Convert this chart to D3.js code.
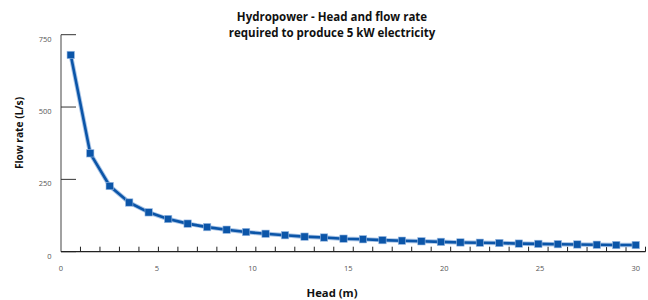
<!DOCTYPE html>
<html>
<head>
<meta charset="utf-8">
<script src="https://cdn.jsdelivr.net/npm/d3@7"></script>
<style>
  body { margin: 0; background: #fff; }
  text { font-family: "Open Sans", "Noto Sans", sans-serif; }
</style>
</head>
<body>
<div id="chart"></div>
<script>
// data
var heads = d3.range(1, 31);
var flows = [680, 340, 227, 170, 136, 113, 97, 85, 76, 68,
             62, 57, 52, 49, 45, 43, 40, 38, 36, 34,
             32, 31, 30, 28, 27, 26, 25, 24, 23, 23];
var yTicks = [0, 250, 500, 750];
var xLabels = [0, 5, 10, 15, 20, 25, 30];
var titleLines = ["Hydropower - Head and flow rate", "required to produce 5 kW electricity"];

var W = 648, H = 300;
var plot = {left: 61, right: 645.5, top: 34.7, bottom: 251.7};

var svg = d3.select("#chart").append("svg")
    .attr("width", W)
    .attr("height", H);

var data = heads.map(function (h, i) { return {head: h, flow: flows[i]}; });

// categories (Excel-style line chart), points at the centre of each band
var xBand = d3.scaleBand().domain(heads).range([plot.left, plot.right]);
var xCenter = function (h) { return xBand(h) + xBand.bandwidth() / 2; };
// labels run from the axis start to the centre of the last category
var xLab = d3.scaleLinear().domain([0, 30]).range([plot.left, xCenter(30)]);
var y = d3.scaleLinear().domain([0, 750]).range([plot.bottom, plot.top]);

// y axis line + ticks pointing into the plot
svg.append("line")
    .attr("x1", plot.left).attr("x2", plot.left)
    .attr("y1", y(750)).attr("y2", y(0))
    .attr("stroke", "#8a8a8a").attr("stroke-width", 1.6);

svg.selectAll(".ytick").data(yTicks).enter().append("line")
    .attr("class", "ytick")
    .attr("x1", plot.left).attr("x2", plot.left + 15)
    .attr("y1", function (d) { return y(d); })
    .attr("y2", function (d) { return y(d); })
    .attr("stroke", "#333").attr("stroke-width", 1);

svg.selectAll(".ylab").data(yTicks).enter().append("text")
    .attr("class", "ylab")
    .attr("x", 51.5)
    .attr("y", function (d) { return y(d) + 7; })
    .attr("text-anchor", "end")
    .attr("font-size", 7.5)
    .attr("fill", "#555")
    .text(function (d) { return d; });

// x axis line + category ticks
svg.append("line")
    .attr("x1", plot.left).attr("x2", plot.right)
    .attr("y1", plot.bottom).attr("y2", plot.bottom)
    .attr("stroke", "#222").attr("stroke-width", 1.2);

svg.selectAll(".xtick").data(heads).enter().append("line")
    .attr("class", "xtick")
    .attr("x1", function (d) { return xBand(d) + xBand.bandwidth(); })
    .attr("x2", function (d) { return xBand(d) + xBand.bandwidth(); })
    .attr("y1", plot.bottom).attr("y2", plot.bottom - 5)
    .attr("stroke", "#222").attr("stroke-width", 1);

svg.selectAll(".xlab").data(xLabels).enter().append("text")
    .attr("class", "xlab")
    .attr("x", function (d) { return xLab(d); })
    .attr("y", 271)
    .attr("text-anchor", "middle")
    .attr("font-size", 7.5)
    .attr("fill", "#555")
    .text(function (d) { return d; });

// series
var line = d3.line()
    .x(function (d) { return xCenter(d.head); })
    .y(function (d) { return y(d.flow); });

svg.append("path")
    .datum(data)
    .attr("d", line)
    .attr("fill", "none")
    .attr("stroke", "#a9c4e6")
    .attr("stroke-width", 4.5)
    .attr("stroke-linejoin", "round");

svg.append("path")
    .datum(data)
    .attr("d", line)
    .attr("fill", "none")
    .attr("stroke", "#0b55a8")
    .attr("stroke-width", 2.6)
    .attr("stroke-linejoin", "round");

svg.selectAll(".pt").data(data).enter().append("rect")
    .attr("class", "pt")
    .attr("x", function (d) { return xCenter(d.head) - 3.7; })
    .attr("y", function (d) { return y(d.flow) - 3.7; })
    .attr("width", 7.4).attr("height", 7.4)
    .attr("fill", "#0b55a8")
    .attr("stroke", "#9dbce3").attr("stroke-width", 0.6);

// titles
svg.append("text")
    .attr("x", 332).attr("y", 21)
    .attr("text-anchor", "middle")
    .attr("font-size", 11.5).attr("font-weight", "bold")
    .attr("fill", "#111")
    .selectAll("tspan").data(titleLines).enter().append("tspan")
    .attr("x", 332)
    .attr("dy", function (d, i) { return i ? 16 : 0; })
    .text(function (d) { return d; });

svg.append("text")
    .attr("transform", "translate(23,133) rotate(-90)")
    .attr("text-anchor", "middle")
    .attr("font-size", 10.2).attr("font-weight", "bold")
    .attr("fill", "#111")
    .text("Flow rate (L/s)");

svg.append("text")
    .attr("x", 332).attr("y", 297)
    .attr("text-anchor", "middle")
    .attr("font-size", 11.3).attr("font-weight", "bold")
    .attr("fill", "#111")
    .text("Head (m)");
</script>
</body>
</html>
